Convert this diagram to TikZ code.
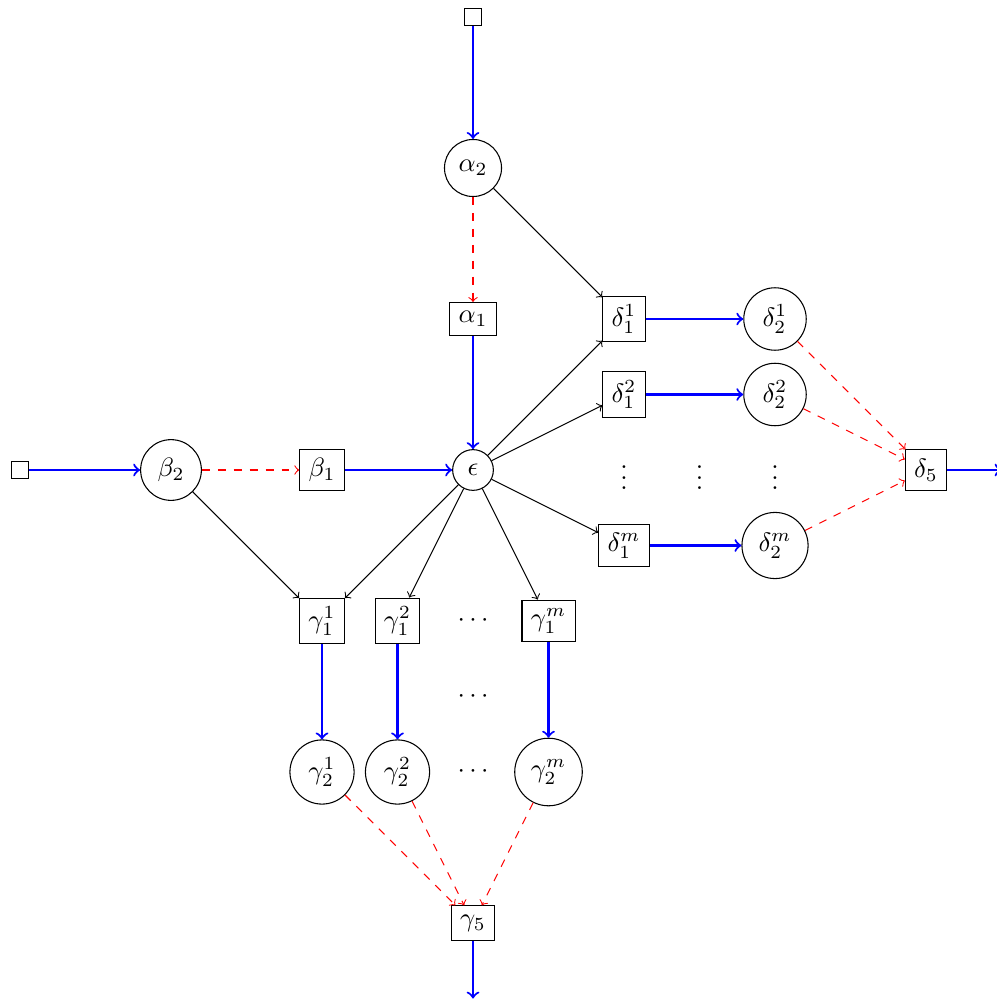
\documentclass[tikz,border=0pt]{standalone}
\begin{document}
\begin{tikzpicture}[
  sq/.style={draw},
  bx/.style={draw, rectangle},
  cir/.style={draw, circle},
  blu/.style={->, thick, blue},
  blk/.style={->},
  rd/.style={->, dashed, red}
]
\useasboundingbox (-6.265,-7.033) rectangle (6.940,6.225);
% nodes
\node[sq] (top) at (0,6) {};
\node[cir] (a2) at (0,4) {$\alpha_2$};
\node[bx] (a1) at (0,2) {$\alpha_1$};
\node[cir] (e) at (0,0) {$\epsilon$};
\node[sq] (left) at (-6,0) {};
\node[cir] (b2) at (-4,0) {$\beta_2$};
\node[bx] (b1) at (-2,0) {$\beta_1$};
\node[bx] (d11) at (2,2) {$\delta_1^1$};
\node[cir] (d21) at (4,2) {$\delta_2^1$};
\node[bx] (d12) at (2,1) {$\delta_1^2$};
\node[cir] (d22) at (4,1) {$\delta_2^2$};
\node (v1) at (2,0) {$\vdots$};
\node (v2) at (3,0) {$\vdots$};
\node (v3) at (4,0) {$\vdots$};
\node[bx] (d1m) at (2,-1) {$\delta_1^m$};
\node[cir] (d2m) at (4,-1) {$\delta_2^m$};
\node[bx] (d5) at (6,0) {$\delta_5$};
\coordinate (rend) at (7,0);
\node[bx] (g11) at (-2,-2) {$\gamma_1^1$};
\node[bx] (g12) at (-1,-2) {$\gamma_1^2$};
\node (c1) at (0,-2) {$\cdots$};
\node[bx] (g1m) at (1,-2) {$\gamma_1^m$};
\node (c2) at (0,-3) {$\cdots$};
\node[cir] (g21) at (-2,-4) {$\gamma_2^1$};
\node[cir] (g22) at (-1,-4) {$\gamma_2^2$};
\node (c3) at (0,-4) {$\cdots$};
\node[cir] (g2m) at (1,-4) {$\gamma_2^m$};
\node[bx] (g5) at (0,-6) {$\gamma_5$};
\coordinate (bend) at (0,-7);
% blue
\draw[blu] (top) -- (a2);
\draw[blu] (a1) -- (e);
\draw[blu] (left) -- (b2);
\draw[blu] (b1) -- (e);
\draw[blu] (d11) -- (d21);
\draw[blu] (d12) -- (d22);
\draw[blu] (d1m) -- (d2m);
\draw[blu] (d5) -- (rend);
\draw[blu] (g11) -- (g21);
\draw[blu] (g12) -- (g22);
\draw[blu] (g1m) -- (g2m);
\draw[blu] (g5) -- (bend);
% black
\draw[blk] (a2) -- (d11);
\draw[blk] (e) -- (d11);
\draw[blk] (e) -- (d12);
\draw[blk] (e) -- (d1m);
\draw[blk] (b2) -- (g11);
\draw[blk] (e) -- (g11);
\draw[blk] (e) -- (g12);
\draw[blk] (e) -- (g1m);
% red
\draw[rd] (a2) -- (a1);
\draw[rd] (b2) -- (b1);
\draw[rd] (d21) -- (d5);
\draw[rd] (d22) -- (d5);
\draw[rd] (d2m) -- (d5);
\draw[rd] (g21) -- (g5);
\draw[rd] (g22) -- (g5);
\draw[rd] (g2m) -- (g5);
\end{tikzpicture}
\end{document}
